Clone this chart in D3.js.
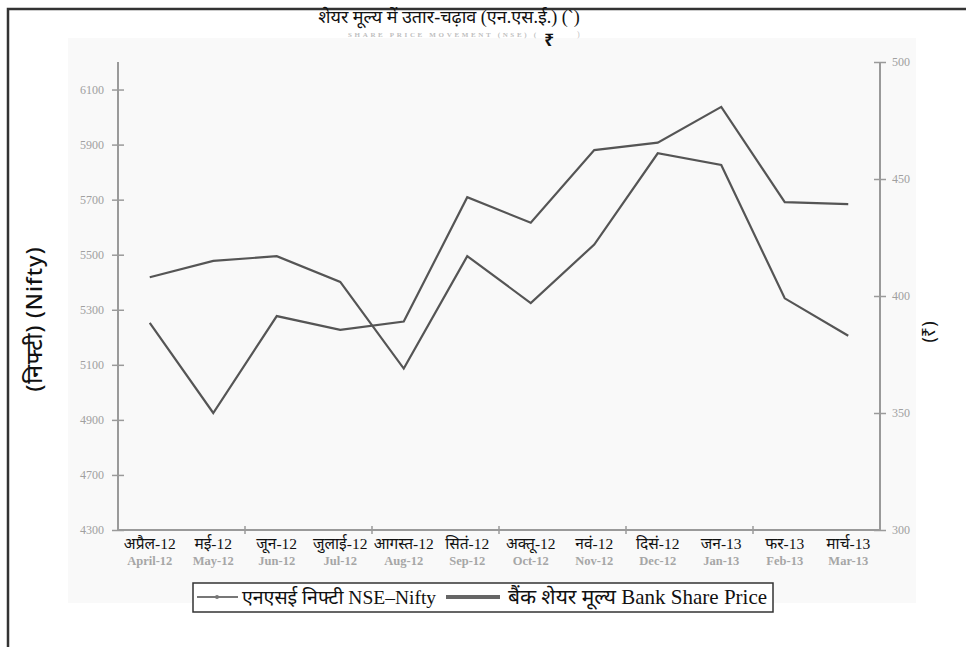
<!DOCTYPE html>
<html>
<head>
<meta charset="utf-8">
<script src="https://cdn.jsdelivr.net/npm/d3@7"></script>
<style>
  body { margin: 0; background: #fff; }
  svg { display: block; }
</style>
</head>
<body>
<div id="chart"></div>
<script>
// months, hindi + english labels
const monthsHi = ["अप्रैल-12", "मई-12", "जून-12", "जुलाई-12", "आगस्त-12", "सितं-12",
                  "अक्तू-12", "नवं-12", "दिसं-12", "जन-13", "फर-13", "मार्च-13"];
const monthsEn = ["April-12", "May-12", "Jun-12", "Jul-12", "Aug-12", "Sep-12",
                  "Oct-12", "Nov-12", "Dec-12", "Jan-13", "Feb-13", "Mar-13"];

// NSE Nifty (left axis)
const nifty = [5252, 4925, 5277, 5227, 5257, 5709, 5616, 5880, 5907, 6037, 5691, 5684];
// bank share price (right axis, rupees)
const bank = [408, 415, 417, 406, 369, 417, 397, 422, 461, 456, 399, 383];

const niftyTicks = [4500, 4700, 4900, 5100, 5300, 5500, 5700, 5900, 6100];
const niftyTickLabels = ["4300", "4700", "4900", "5100", "5300", "5500", "5700", "5900", "6100"];
const bankTicks = [300, 350, 400, 450, 500];

const width = 966, height = 647;
const plot = { left: 118, right: 880, top: 62, bottom: 530 };
const axisColor = "#9a9a9a";
const lineColor = "#555";
const serif = "'Liberation Serif', 'Noto Serif', 'Noto Sans', serif";

const svg = d3.select("#chart").append("svg")
    .attr("width", width)
    .attr("height", height);

// faint grey panel behind the chart
svg.append("rect")
    .attr("x", 68).attr("y", 38)
    .attr("width", 848).attr("height", 565)
    .attr("fill", "#f9f9f9");

// outer frame (top + left only)
svg.append("path")
    .attr("d", `M8,${height} L8,9 L${width},9`)
    .attr("fill", "none")
    .attr("stroke", "#333")
    .attr("stroke-width", 2.5);

const x = d3.scaleBand().domain(monthsEn).range([plot.left, plot.right]);
const yL = d3.scaleLinear().domain([4500, 6200]).range([plot.bottom, plot.top]);
const yR = d3.scaleLinear().domain([300, 500]).range([plot.bottom, plot.top]);

// left axis
const gL = svg.append("g")
    .attr("transform", `translate(${plot.left},0)`)
    .call(d3.axisLeft(yL).tickValues(niftyTicks).tickFormat((d, i) => niftyTickLabels[i]).tickSize(6).tickPadding(8));
gL.select(".domain").remove();
gL.selectAll(".tick line").attr("x1", -6).attr("x2", 6).attr("stroke", axisColor).attr("stroke-width", 1.5);
gL.selectAll(".tick text").attr("fill", "#a0a0a0").style("font", `12px ${serif}`);
svg.append("line")
    .attr("x1", plot.left).attr("x2", plot.left).attr("y1", plot.top).attr("y2", plot.bottom)
    .attr("stroke", axisColor).attr("stroke-width", 2);

// right axis
const gR = svg.append("g")
    .attr("transform", `translate(${plot.right},0)`)
    .call(d3.axisRight(yR).tickValues(bankTicks).tickSize(6).tickPadding(6));
gR.select(".domain").remove();
gR.selectAll(".tick line").attr("x1", -6).attr("x2", 6).attr("stroke", axisColor).attr("stroke-width", 1.5);
gR.selectAll(".tick text").attr("fill", "#a0a0a0").style("font", `12px ${serif}`);
svg.append("line")
    .attr("x1", plot.right).attr("x2", plot.right).attr("y1", plot.top).attr("y2", plot.bottom)
    .attr("stroke", axisColor).attr("stroke-width", 2);

// x axis line + ticks every second month
svg.append("line")
    .attr("x1", plot.left).attr("x2", plot.right).attr("y1", plot.bottom).attr("y2", plot.bottom)
    .attr("stroke", axisColor).attr("stroke-width", 2);
svg.append("g").selectAll("line")
    .data(monthsEn.filter((d, i) => i % 2 === 0 && i > 0))
    .join("line")
    .attr("x1", d => x(d)).attr("x2", d => x(d))
    .attr("y1", plot.bottom - 4).attr("y2", plot.bottom + 4)
    .attr("stroke", axisColor).attr("stroke-width", 1.5);

// month labels
svg.append("g").selectAll("text")
    .data(monthsHi)
    .join("text")
    .attr("x", (d, i) => x(monthsEn[i]) + x.bandwidth() / 2)
    .attr("y", 549)
    .attr("text-anchor", "middle")
    .attr("fill", "#111")
    .style("font", `15.5px ${serif}`)
    .text(d => d);
svg.append("g").selectAll("text")
    .data(monthsEn)
    .join("text")
    .attr("x", d => x(d) + x.bandwidth() / 2)
    .attr("y", 565)
    .attr("text-anchor", "middle")
    .attr("fill", "#a6a6a6")
    .style("font", `bold 12.5px ${serif}`)
    .text(d => d);

// lines
const cx = (d, i) => x(monthsEn[i]) + x.bandwidth() / 2;
svg.append("path")
    .datum(bank)
    .attr("fill", "none")
    .attr("stroke", lineColor)
    .attr("stroke-width", 2.2)
    .attr("d", d3.line().x(cx).y(d => yR(d)));
svg.append("path")
    .datum(nifty)
    .attr("fill", "none")
    .attr("stroke", lineColor)
    .attr("stroke-width", 2.2)
    .attr("d", d3.line().x(cx).y(d => yL(d)));

// title
svg.append("text")
    .attr("x", 449).attr("y", 23)
    .attr("text-anchor", "middle")
    .attr("fill", "#111")
    .style("font", `18px ${serif}`)
    .text("शेयर मूल्य में उतार-चढ़ाव (एन.एस.ई.) (`)");
svg.append("text")
    .attr("x", 348).attr("y", 37)
    .attr("textLength", 188)
    .attr("fill", "#c0c0c0")
    .style("font", `bold 7px ${serif}`)
    .text("SHARE PRICE MOVEMENT (NSE) (");
svg.append("text")
    .attr("x", 549).attr("y", 46)
    .attr("text-anchor", "middle")
    .attr("fill", "#111")
    .style("font", "bold 17px 'Noto Sans', sans-serif")
    .text("₹");
svg.append("text")
    .attr("x", 577).attr("y", 37)
    .attr("fill", "#c4c4c4")
    .style("font", `8px ${serif}`)
    .text(")");

// axis titles
svg.append("text")
    .attr("transform", "translate(42,319) rotate(-90)")
    .attr("text-anchor", "middle")
    .attr("fill", "#111")
    .attr("letter-spacing", 1)
    .style("font", "500 22px 'Noto Sans', sans-serif")
    .text("(निफ्टी) (Nifty)");
svg.append("text")
    .attr("transform", "translate(935,332) rotate(-90)")
    .attr("text-anchor", "middle")
    .attr("fill", "#111")
    .style("font", "18px 'Noto Sans', sans-serif")
    .text("(₹)");

// legend
const lg = svg.append("g");
lg.append("rect")
    .attr("x", 193).attr("y", 583)
    .attr("width", 580).attr("height", 29)
    .attr("fill", "#fff")
    .attr("stroke", "#333")
    .attr("stroke-width", 1.5);
lg.append("line")
    .attr("x1", 197).attr("x2", 238).attr("y1", 597).attr("y2", 597)
    .attr("stroke", "#777").attr("stroke-width", 2);
lg.append("circle")
    .attr("cx", 217).attr("cy", 597).attr("r", 2)
    .attr("fill", "#777");
lg.append("text")
    .attr("x", 242).attr("y", 604)
    .attr("fill", "#111")
    .style("font", `19.5px ${serif}`)
    .text("एनएसई निफ्टी NSE–Nifty");
lg.append("line")
    .attr("x1", 446).attr("x2", 500).attr("y1", 597).attr("y2", 597)
    .attr("stroke", "#666").attr("stroke-width", 4);
lg.append("text")
    .attr("x", 508).attr("y", 604)
    .attr("fill", "#111")
    .style("font", `21px ${serif}`)
    .text("बैंक शेयर मूल्य Bank Share Price");
</script>
</body>
</html>
